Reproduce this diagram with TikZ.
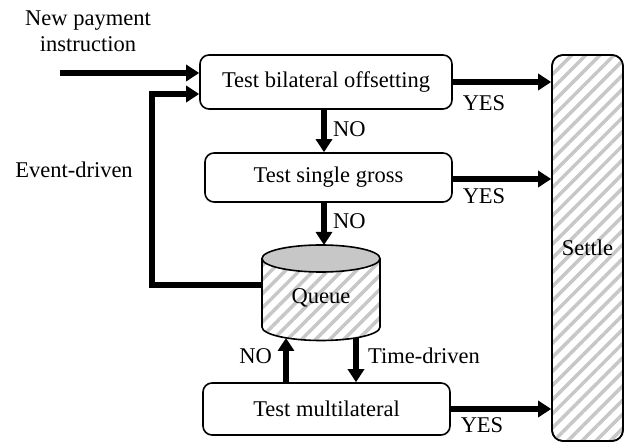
\documentclass[tikz,border=0pt]{standalone}
\usepackage{fontspec}
\setmainfont{Liberation Serif}
\usetikzlibrary{arrows.meta,patterns.meta}
\begin{document}
\begin{tikzpicture}[x=1pt,y=-1pt,
  font=\fontsize{22.5}{26}\selectfont,
  box/.style={draw,line width=1.6pt,rounded corners=9pt,fill=white,inner sep=0pt},
  arr/.style={line width=5.5pt,-{Triangle[length=13pt,width=16pt]}},
  thick line/.style={line width=5.5pt},
  hatch/.style={pattern={Lines[angle=45,distance=10pt,line width=3.5pt]},pattern color=black!22},
  lbl/.style={inner sep=0pt}]
\useasboundingbox (0,0) rectangle (624,443);
% boxes
\node[box,minimum width=252pt,minimum height=54pt] (b1) at (326,82) {Test bilateral offsetting};
\node[box,minimum width=247pt,minimum height=49pt] (b2) at (328.5,177.5) {Test single gross};
\node[box,minimum width=247pt,minimum height=52pt] (b3) at (326.5,409) {Test multilateral};
% settle
\node[box,fill=white,minimum width=71pt,minimum height=386pt,rounded corners=11pt] (s) at (587.5,248) {};
\path[hatch,rounded corners=11pt] (552,55) rectangle (623,441);
\draw[line width=1.6pt,rounded corners=11pt] (552,55) rectangle (623,441);
\node[lbl] (st) at (s.center) {Settle};
% queue cylinder
\path[fill=white] (262,258.5) -- (262,327) arc[start angle=180,end angle=0,x radius=59,y radius=13.5] -- (380,258.5) -- cycle;
\path[hatch] (262,258.5) -- (262,327) arc[start angle=180,end angle=0,x radius=59,y radius=13.5] -- (380,258.5) -- cycle;
\draw[line width=1.6pt] (262,258.5) -- (262,327) arc[start angle=180,end angle=0,x radius=59,y radius=13.5] -- (380,258.5);
\draw[line width=1.6pt,fill=black!22] (321,258.5) ellipse[x radius=59,y radius=13.5];
\node[lbl] (q) at (321,298) {Queue};
\coordinate (qw) at (262,285);
\coordinate (qt) at (324,245);
\coordinate (qb1) at (286,338);
\coordinate (qb2) at (356,338);
% input
\coordinate (in) at (60,73);
\draw[arr] (in) -- (in -| b1.west);
\node[lbl,align=center] (np) at (88,31) {New payment\\instruction};
% event-driven loop
\coordinate (evc) at (152,94);
\draw[thick line] (qw) -| ([yshift=2.75pt]evc);
\draw[arr] ([xshift=-2.75pt]evc) -- (evc -| b1.west);
\node[lbl] (ev) at (74,170) {Event-driven};
% NO arrows down
\draw[arr] ([xshift=-2pt]b1.south) -- ([xshift=-2pt]b1.south |- b2.north);
\node[lbl,anchor=west] (no1) at (333,129) {NO};
\draw[arr] (b2.south -| qt) -- (qt);
\node[lbl,anchor=west] (no2) at (333,221) {NO};
% queue <-> multilateral
\draw[arr] (qb1 |- b3.north) -- (qb1);
\node[lbl,anchor=east] (no3) at (272,356) {NO};
\draw[arr] (qb2) -- (qb2 |- b3.north);
\node[lbl,anchor=west] (td) at (368,356) {Time-driven};
% YES arrows
\draw[arr] (b1.east) -- (b1.east -| s.west);
\node[lbl] (y1) at (484,103) {YES};
\draw[arr] ([yshift=-1.5pt]b2.east) -- ([yshift=-1.5pt]b2.east -| s.west);
\node[lbl] (y2) at (484,196) {YES};
\draw[arr] (b3.east) -- (b3.east -| s.west);
\node[lbl] (y3) at (482,425) {YES};
\end{tikzpicture}
\end{document}
